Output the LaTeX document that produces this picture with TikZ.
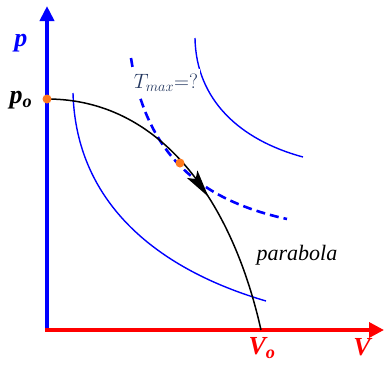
\documentclass[tikz,border=0pt]{standalone}
\usepackage{fontspec}
\setmainfont{Liberation Serif}
\usepackage{xcolor}
\usepackage{tikz}
\usetikzlibrary{arrows.meta, calc}
\definecolor{dotorange}{RGB}{255,122,30}
\definecolor{tmaxblue}{RGB}{35,55,95}
\tikzset{
    paxis/.style={draw=blue, line width=4pt, -{Triangle[length=15pt,width=14pt]}},
    vaxis/.style={draw=red, line width=3.5pt, -{Triangle[length=15pt,width=15pt]}},
    iso/.style={draw=blue, line width=1.4pt},
    isomax/.style={draw=blue, line width=2.6pt, dash pattern=on 9pt off 5pt},
    parab/.style={draw=black, line width=1.5pt},
    dot/.style={circle, fill=dotorange, inner sep=0pt, minimum size=9pt},
    axlabel/.style={font=\fontsize{26}{30}\selectfont\bfseries\itshape, inner sep=0pt}
}

\begin{document}
\begin{tikzpicture}[x=1pt, y=-1pt]
    \useasboundingbox (0,0) rectangle (384,365);
    \coordinate (O) at (47,330);
    \coordinate (ptop) at (47,6);
    \coordinate (vend) at (384,330);
    \coordinate (V0) at (261,330);
    \coordinate (A) at (47,99);
    \coordinate (B) at (180,163);

    % isotherms
    \draw[iso] (195,38) .. controls (196,100) and (240,140) .. (303,157);
    \draw[iso] (73,93) .. controls (76,205) and (160,270) .. (266,301);
    \draw[isomax] (131,58) .. controls (146,155) and (200,200) .. (287,219);

    % axes
    \draw[paxis] (O) -- (ptop);
    \draw[vaxis] ([xshift=-2pt]O) -- (vend);

    % the process
    \draw[parab] (A) .. controls (160,99) and (232,200) .. (V0)
        coordinate[pos=0.52] (m1) coordinate[pos=0.615] (m2);
    % arrow head on the curve
    \coordinate (back) at ($(m2)!28pt!(m1)$);
    \coordinate (notch) at ($(m2)!22pt!(m1)$);
    \fill[black] (m2) -- ($(back)!6.5pt!90:(m2)$) -- (notch) -- ($(back)!6.5pt!-90:(m2)$) -- cycle;

    % points
    \node[dot] (Adot) at (A) {};
    \node[dot] (Bdot) at (B) {};

    % labels
    \node[fill=white, inner xsep=2pt, inner ysep=5pt, text=tmaxblue, font=\fontsize{20}{24}\selectfont] (tmax) at (166,83) {$T_{max}{=}?$};
    \node[axlabel, text=blue] (plab) at (21,43) {p};
    \node[axlabel, text=black] (p0lab) at (21,100) {p\textsubscript{o}};
    \node[axlabel, text=red] (v0lab) at (262,348) {V\textsubscript{o}};
    \node[axlabel, text=red] (vlab) at (362,347) {V};
    \node[font=\fontsize{22}{26}\selectfont\itshape] (parlab) at (297,255) {parabola};
\end{tikzpicture}
\end{document}
